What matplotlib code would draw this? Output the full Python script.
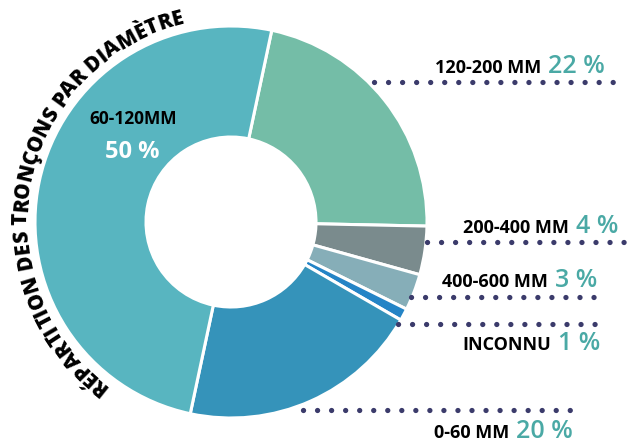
import numpy as np
import matplotlib.pyplot as plt
from matplotlib.font_manager import FontProperties, findfont, get_font
from matplotlib.ft2font import Kerning, LoadFlags

W, H = 627, 445

labels = ['120-200 MM', '200-400 MM', '400-600 MM', 'INCONNU', '0-60 MM', '60-120MM']
shares = [22, 4, 3, 1, 20, 50]
colors = ['#74BDA7', '#7A8B8D', '#86AEB8', '#2484C6', '#3593BA', '#58B5C0']
title = 'RÉPARTITION DES TRONÇONS PAR DIAMÈTRE'

dot_color = '#3B3B6B'
pct_color = '#4AA9A5'
font = 'Open Sans'

fig = plt.figure(figsize=(W / 100, H / 100), dpi=100)
ax = fig.add_axes([0, 0, 1, 1])

# donut, pixel units (y up)
cx, cy = 231, H - 222
r_out, r_in = 196, 85
ax.pie(shares, colors=colors, startangle=78, counterclock=False,
       center=(cx, cy), radius=r_out,
       wedgeprops=dict(width=r_out - r_in, edgecolor='white', linewidth=2.2))
ax.set_xlim(0, W)
ax.set_ylim(0, H)
ax.axis('off')

renderer = fig.canvas.get_renderer()

# leader rows: dotted line y, line x0, x1, text baseline y, text right edge
rows = [
    (82, 374, 624, 73, 605),
    (242, 427, 625, 233, 618),
    (297, 411, 606, 287, 597),
    (324, 398, 599, 350, 600),
    (410, 303, 571, 438, 573),
]

for (ly, x0, x1, ty, xr), name, val in zip(rows, labels[:5], shares[:5]):
    ax.plot([x0, x1], [H - ly, H - ly], color=dot_color, lw=3.8,
            linestyle=(0, (0.01, 2.65)), dash_capstyle='round')
    pt = ax.text(xr, H - ty, f'{val} %', ha='right', va='baseline',
                 fontsize=18, fontweight='semibold', color=pct_color, family=font)
    bb = pt.get_window_extent(renderer)
    ax.text(bb.x0 - 7, H - ty, name, ha='right', va='baseline',
            fontsize=13, fontweight='bold', color='black', family=font)

# label inside the big slice
ax.text(133, H - 124, labels[5], ha='center', va='baseline', fontsize=12.5,
        fontweight='bold', color='black', family=font)
ax.text(132, H - 158, f'{shares[5]} %', ha='center', va='baseline', fontsize=17,
        fontweight='bold', color='white', family=font)


# curved title around the outside of the ring
def glyph_centres(s, fp):
    # ink centre of each glyph along the baseline, in pixels, with kerning
    ft = get_font(findfont(fp))
    ft.set_size(fp.get_size_in_points(), fig.dpi)
    pen, prev, out = 0.0, None, []
    for ch in s:
        gi = ft.get_char_index(ord(ch))
        if prev is not None:
            pen += ft.get_kerning(prev, gi, Kerning.DEFAULT) / 64
        g = ft.load_glyph(gi, flags=LoadFlags.NO_HINTING)
        out.append(pen + (g.horiBearingX + g.width / 2) / 64)
        pen += g.linearHoriAdvance / 65536
        prev = gi
    return np.array(out), pen


R = 204
a0, a1 = np.deg2rad(233.5), np.deg2rad(104)
fp = FontProperties(family=font, weight='heavy', size=13)
fp.set_size(13 * R * (a0 - a1) / glyph_centres(title, fp)[1])
centres, _ = glyph_centres(title, fp)

for ch, c in zip(title, centres):
    th = a0 - c / R
    ax.text(cx + R * np.cos(th), cy + R * np.sin(th), ch,
            rotation=np.rad2deg(th) - 90, rotation_mode='anchor',
            ha='center', va='baseline', fontproperties=fp, color='black')

fig.savefig('out.png', dpi=100)
